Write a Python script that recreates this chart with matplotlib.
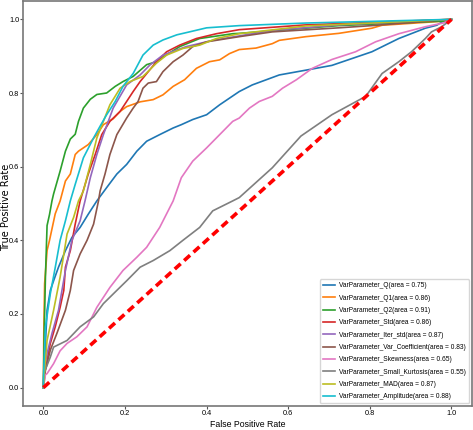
import matplotlib
matplotlib.use("Agg")
import matplotlib.pyplot as plt

# ROC curves
fpr_q = [0, 0.003, 0.005, 0.009, 0.017, 0.025, 0.037, 0.054, 0.07, 0.09, 0.11, 0.131, 0.155, 0.18, 0.204,
         0.229, 0.253, 0.285, 0.318, 0.338, 0.366, 0.40, 0.432, 0.48, 0.512, 0.578, 0.643, 0.707, 0.805,
         0.871, 0.936, 0.964, 0.98, 1.0]
tpr_q = [0, 0.05, 0.12, 0.21, 0.264, 0.29, 0.327, 0.372, 0.408, 0.435, 0.471, 0.507, 0.543, 0.58, 0.606,
         0.642, 0.669, 0.687, 0.705, 0.714, 0.728, 0.741, 0.768, 0.804, 0.822, 0.849, 0.862, 0.875, 0.912,
         0.948, 0.976, 0.984, 0.995, 1.0]

fpr_q1 = [0, 0.001, 0.003, 0.009, 0.015, 0.029, 0.041, 0.054, 0.066, 0.078, 0.086, 0.11, 0.131, 0.147,
          0.171, 0.188, 0.204, 0.237, 0.269, 0.293, 0.318, 0.346, 0.375, 0.407, 0.432, 0.456, 0.48, 0.521,
          0.561, 0.578, 0.643, 0.724, 0.805, 0.83, 0.993, 1.0]
tpr_q1 = [0, 0.15, 0.282, 0.372, 0.40, 0.472, 0.507, 0.561, 0.58, 0.633, 0.642, 0.66, 0.687, 0.714,
          0.73, 0.75, 0.763, 0.776, 0.782, 0.795, 0.818, 0.836, 0.867, 0.885, 0.89, 0.907, 0.918, 0.922,
          0.934, 0.943, 0.953, 0.962, 0.976, 0.984, 0.996, 1.0]

fpr_q2 = [0, 0.002, 0.005, 0.009, 0.015, 0.021, 0.025, 0.041, 0.054, 0.066, 0.078, 0.086, 0.098, 0.115,
          0.131, 0.155, 0.176, 0.195, 0.22, 0.253, 0.277, 0.302, 0.334, 0.383, 0.464, 0.48, 0.724, 0.993, 1.0]
tpr_q2 = [0, 0.15, 0.30, 0.44, 0.47, 0.507, 0.526, 0.588, 0.642, 0.675, 0.688, 0.723, 0.759, 0.783,
          0.796, 0.80, 0.818, 0.831, 0.845, 0.877, 0.885, 0.904, 0.926, 0.948, 0.961, 0.962, 0.983, 0.996, 1.0]

fpr_std = [0, 0.003, 0.009, 0.017, 0.029, 0.041, 0.05, 0.054, 0.066, 0.078, 0.09, 0.11, 0.127, 0.143,
           0.163, 0.188, 0.204, 0.22, 0.237, 0.257, 0.277, 0.302, 0.334, 0.375, 0.424, 0.48, 0.643, 1.0]
tpr_std = [0, 0.04, 0.075, 0.12, 0.165, 0.218, 0.264, 0.327, 0.372, 0.444, 0.507, 0.58, 0.633, 0.687,
           0.723, 0.75, 0.777, 0.804, 0.831, 0.858, 0.885, 0.912, 0.93, 0.948, 0.961, 0.972, 0.985, 1.0]

fpr_iter = [0, 0.003, 0.009, 0.021, 0.037, 0.054, 0.07, 0.09, 0.102, 0.115, 0.131, 0.147, 0.171, 0.204,
            0.237, 0.261, 0.293, 0.35, 0.415, 0.48, 0.561, 0.724, 1.0]
tpr_iter = [0, 0.05, 0.092, 0.147, 0.21, 0.318, 0.40, 0.453, 0.507, 0.57, 0.633, 0.687, 0.759, 0.822,
            0.849, 0.876, 0.903, 0.926, 0.943, 0.955, 0.97, 0.985, 1.0]

fpr_var = [0, 0.005, 0.017, 0.033, 0.054, 0.066, 0.074, 0.09, 0.107, 0.123, 0.135, 0.139, 0.151, 0.163,
           0.18, 0.204, 0.22, 0.232, 0.244, 0.257, 0.277, 0.293, 0.318, 0.342, 0.366, 0.40, 0.48, 0.561,
           0.724, 0.805, 1.0]
tpr_var = [0, 0.047, 0.102, 0.147, 0.21, 0.264, 0.318, 0.363, 0.40, 0.444, 0.507, 0.534, 0.58, 0.633,
           0.687, 0.732, 0.759, 0.777, 0.813, 0.827, 0.831, 0.858, 0.885, 0.903, 0.926, 0.939, 0.953, 0.966,
           0.977, 0.983, 1.0]

fpr_skew = [0, 0.005, 0.009, 0.025, 0.041, 0.058, 0.082, 0.107, 0.131, 0.163, 0.195, 0.229, 0.253, 0.285,
            0.318, 0.338, 0.366, 0.40, 0.432, 0.464, 0.48, 0.505, 0.529, 0.561, 0.586, 0.62, 0.659, 0.707,
            0.765, 0.814, 0.871, 0.936, 0.98, 1.0]
tpr_skew = [0, 0.035, 0.038, 0.065, 0.10, 0.12, 0.138, 0.165, 0.218, 0.272, 0.318, 0.354, 0.381, 0.435,
            0.507, 0.57, 0.615, 0.651, 0.687, 0.723, 0.732, 0.759, 0.777, 0.791, 0.813, 0.836, 0.867, 0.891,
            0.912, 0.939, 0.961, 0.98, 0.99, 1.0]

fpr_kurt = [0, 0.001, 0.017, 0.025, 0.058, 0.09, 0.123, 0.147, 0.18, 0.204, 0.237, 0.269, 0.31, 0.342,
            0.383, 0.415, 0.464, 0.48, 0.561, 0.631, 0.707, 0.79, 0.83, 0.871, 0.902, 0.936, 0.951, 0.976, 1.0]
tpr_kurt = [0, 0.038, 0.083, 0.11, 0.128, 0.165, 0.192, 0.228, 0.264, 0.29, 0.327, 0.345, 0.372, 0.40,
            0.435, 0.48, 0.507, 0.516, 0.597, 0.683, 0.741, 0.791, 0.853, 0.885, 0.912, 0.948, 0.966, 0.98, 1.0]

fpr_mad = [0, 0.003, 0.009, 0.025, 0.041, 0.058, 0.074, 0.086, 0.098, 0.115, 0.131, 0.147, 0.163, 0.188,
           0.212, 0.244, 0.277, 0.302, 0.342, 0.383, 0.424, 0.48, 0.643, 1.0]
tpr_mad = [0, 0.05, 0.128, 0.21, 0.30, 0.417, 0.462, 0.507, 0.534, 0.606, 0.678, 0.723, 0.768, 0.813,
           0.831, 0.845, 0.881, 0.903, 0.921, 0.93, 0.948, 0.961, 0.982, 1.0]

fpr_amp = [0, 0.0, 0.005, 0.017, 0.029, 0.041, 0.054, 0.066, 0.078, 0.098, 0.123, 0.139, 0.155, 0.176,
           0.195, 0.22, 0.244, 0.269, 0.293, 0.327, 0.358, 0.40, 0.48, 0.643, 1.0]
tpr_amp = [0, 0.02, 0.165, 0.255, 0.326, 0.40, 0.453, 0.507, 0.552, 0.624, 0.678, 0.71, 0.741, 0.777,
           0.818, 0.853, 0.903, 0.93, 0.944, 0.958, 0.966, 0.977, 0.983, 0.99, 1.0]

names = ["Q", "Q1", "Q2", "Std", "Iter_std", "Var_Coefficient", "Skewness", "Small_Kurtosis", "MAD", "Amplitude"]
areas = [0.75, 0.86, 0.91, 0.86, 0.87, 0.83, 0.65, 0.55, 0.87, 0.88]
curves = [(fpr_q, tpr_q), (fpr_q1, tpr_q1), (fpr_q2, tpr_q2), (fpr_std, tpr_std), (fpr_iter, tpr_iter),
          (fpr_var, tpr_var), (fpr_skew, tpr_skew), (fpr_kurt, tpr_kurt), (fpr_mad, tpr_mad), (fpr_amp, tpr_amp)]

narrow = ["Liberation Sans", "DejaVu Sans"]

fig = plt.figure(figsize=(4.73, 4.30), dpi=100)
ax = fig.add_axes([0.0486, 0.0558, 0.949, 0.942])

for (fpr, tpr), name, area in zip(curves, names, areas):
    ax.plot(fpr, tpr, lw=1.2, label="VarParameter_%s(area = %.2f)" % (name, area))

ax.plot([0, 1], [0, 1], color="red", lw=2.6, linestyle=(0, (2.2, 1.3)))

for sp in ax.spines.values():
    sp.set_color("#777777")
    sp.set_linewidth(1.2)
ax.tick_params(colors="#555555", length=2, width=0.8, pad=0.6)
for lab in ax.get_xticklabels() + ax.get_yticklabels():
    lab.set_family(narrow)
    lab.set_fontsize(5.3)
    lab.set_color("black")

ax.set_xlabel("False Positive Rate", family=narrow, fontsize=6.3, labelpad=2.5)
ax.set_ylabel("True Positive Rate", fontsize=7)
ax.yaxis.set_label_coords(-0.026, 0.49)

leg = ax.legend(loc="lower right", prop={"family": narrow, "size": 4.8}, labelspacing=0.8,
                handlelength=1.9, handletextpad=0.6, borderaxespad=0.4, borderpad=0.45)

fig.savefig("out.png", dpi=100)
